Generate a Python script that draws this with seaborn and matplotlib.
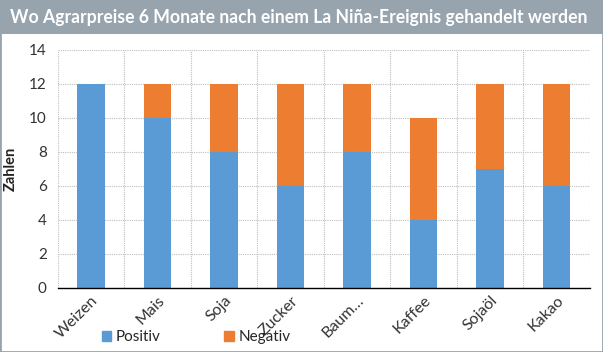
import numpy as np
import pandas as pd
import matplotlib
matplotlib.use("Agg")
import matplotlib.pyplot as plt
import seaborn as sns
from matplotlib.patches import Rectangle, Patch

categories = ["Weizen", "Mais", "Soja", "Zucker", "Baum…", "Kaffee", "Sojaöl", "Kakao"]
positiv = [12, 10, 8, 6, 8, 4, 7, 6]
negativ = [0, 2, 4, 6, 4, 6, 5, 6]

blue = "#5B9BD5"
orange = "#ED7D31"

df = pd.DataFrame({"Kategorie": categories, "Positiv": positiv, "Negativ": negativ})
df["Gesamt"] = df["Positiv"] + df["Negativ"]

sns.set_style("white")
plt.rcParams["font.family"] = ["Lato", "DejaVu Sans"]

fig = plt.figure(figsize=(6.03, 3.52), dpi=100)
ax = fig.add_axes([0.096, 0.182, 0.882, 0.676])

# stacked: total in orange, positive on top of it in blue
sns.barplot(data=df, x="Kategorie", y="Gesamt", color=orange, saturation=1, width=0.41,
            linewidth=0, ax=ax)
sns.barplot(data=df, x="Kategorie", y="Positiv", color=blue, saturation=1, width=0.41,
            linewidth=0, ax=ax)

ax.set_ylim(0, 14)
ax.set_yticks(range(0, 15, 2))
ax.set_xlim(-0.5, len(categories) - 0.5)
ax.set_xlabel("")
ax.set_ylabel("Zahlen", fontsize=10.5, fontweight="bold", color="#222222", labelpad=8)
ax.tick_params(axis="y", labelsize=11, colors="#333333", length=0, pad=8)
ax.tick_params(axis="x", labelsize=11.5, colors="#333333", length=0, pad=4)
for lab in ax.get_xticklabels():
    lab.set_rotation(45)
    lab.set_ha("right")
    lab.set_rotation_mode("anchor")

# dotted grid: horizontal at ticks, vertical between categories
for y in range(2, 15, 2):
    ax.axhline(y, color="#BFBFBF", lw=0.8, ls=(0, (1, 1)), zorder=0)
for x in np.arange(-0.5, len(categories) + 0.5, 1):
    ax.axvline(x, color="#BFBFBF", lw=0.8, ls=(0, (1, 1)), zorder=0)
ax.set_axisbelow(True)
for s in ["top", "right", "left"]:
    ax.spines[s].set_visible(False)
ax.spines["bottom"].set_color("black")
ax.spines["bottom"].set_linewidth(1)

# title bar
fig.patches.append(Rectangle((0, 1 - 34 / 352), 1, 34 / 352, transform=fig.transFigure,
                             facecolor="#97A3AD", edgecolor="none", zorder=0))
fig.text(0.017, 1 - 17 / 352, "Wo Agrarpreise 6 Monate nach einem La Niña-Ereignis gehandelt werden",
         color="white", fontsize=12.7, fontweight="bold", va="center", ha="left")
fig.patches.append(Rectangle((0, 0), 1, 1, transform=fig.transFigure, fill=False,
                             edgecolor="#97A3AD", lw=2))

handles = [Patch(color=blue, label="Positiv"), Patch(color=orange, label="Negativ")]
fig.legend(handles=handles, loc="center", bbox_to_anchor=(0.325, 0.042), ncol=2, frameon=False,
           fontsize=11, handlelength=0.6, handleheight=0.6, columnspacing=4.2, handletextpad=0.3)

fig.savefig("out.png", dpi=100)
